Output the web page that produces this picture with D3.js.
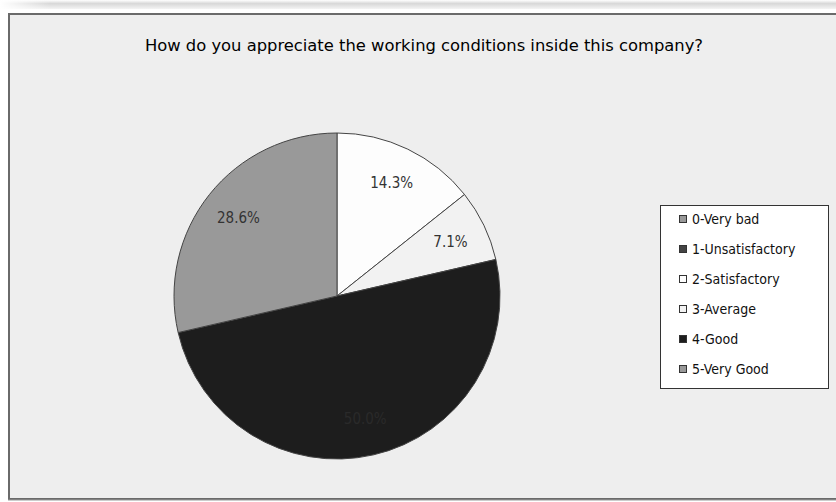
<!DOCTYPE html>
<html><head><meta charset="utf-8">
<script src="https://cdn.jsdelivr.net/npm/d3@7"></script>
<style>html,body{margin:0;padding:0;background:#fff;}svg{display:block;}</style>
</head><body>
<svg id="c" width="836" height="502"></svg>
<script>
const title = "How do you appreciate the working conditions inside this company?";
const categories = ["0-Very bad","1-Unsatisfactory","2-Satisfactory","3-Average","4-Good","5-Very Good"];
const values = [0, 0, 14.3, 7.1, 50.0, 28.6];
const colors = ["#999999","#444444","#fdfdfd","#f2f2f2","#1d1d1d","#999999"];
const labelColors = ["#333","#333","#333","#333","#2a2a2a","#333"];

const svg = d3.select("#c");
const W = 836, H = 502;

// top gradient band
const defs = svg.append("defs");
const g1 = defs.append("linearGradient").attr("id","topg").attr("x1",0).attr("x2",0).attr("y1",0).attr("y2",1);
g1.append("stop").attr("offset","0%").attr("stop-color","#ffffff");
g1.append("stop").attr("offset","40%").attr("stop-color","#d8d8d8");
g1.append("stop").attr("offset","100%").attr("stop-color","#f4f4f4");
const g2 = defs.append("linearGradient").attr("id","fadeL").attr("x1",0).attr("x2",1);
g2.append("stop").attr("offset","0%").attr("stop-color","#fff").attr("stop-opacity",1);
g2.append("stop").attr("offset","6%").attr("stop-color","#fff").attr("stop-opacity",0);
svg.append("rect").attr("x",0).attr("y",0).attr("width",W).attr("height",9).attr("fill","url(#topg)");
svg.append("rect").attr("x",0).attr("y",0).attr("width",W).attr("height",9).attr("fill","url(#fadeL)");

// chart frame
svg.append("rect").attr("x",9).attr("y",14).attr("width",W).attr("height",485)
  .attr("fill","#eeeeee").attr("stroke","#6a6a6a").attr("stroke-width",2);
svg.append("line").attr("x1",8).attr("x2",W).attr("y1",500).attr("y2",500).attr("stroke","#9a9a9a").attr("stroke-width",1);

svg.append("text").attr("x",424).attr("y",51).attr("text-anchor","middle")
  .attr("font-family","DejaVu Sans Condensed, DejaVu Sans, sans-serif").attr("font-size",16)
  .attr("fill","#000").attr("textLength",558).attr("lengthAdjust","spacingAndGlyphs")
  .text(title);

// pie
const cx = 337, cy = 296, R = 163;
const pie = d3.pie().sort(null).value(d => d.v).startAngle(0).endAngle(2*Math.PI);
const data = categories.map((c,i)=>({c, v: values[i], i}));
const arcs = pie(data).filter(d => d.data.v > 0);
const arc = d3.arc().innerRadius(0).outerRadius(R);
const labelArc = d3.arc().innerRadius(126).outerRadius(126);
const gp = svg.append("g").attr("transform",`translate(${cx},${cy})`);
gp.selectAll("path").data(arcs).enter().append("path")
  .attr("d", arc).attr("fill", d => colors[d.data.i])
  .attr("stroke","#444").attr("stroke-width",1);
gp.selectAll("text").data(arcs).enter().append("text")
  .attr("transform", d => `translate(${labelArc.centroid(d)})`)
  .attr("text-anchor","middle").attr("dy","0.36em")
  .attr("font-family","DejaVu Sans Condensed, DejaVu Sans, sans-serif").attr("font-size",15)
  .attr("fill", d => labelColors[d.data.i])
  .text(d => d3.format(".1f")(d.data.v) + "%");

// legend
const lg = svg.append("g");
lg.append("rect").attr("x",660.5).attr("y",205.5).attr("width",168).attr("height",183)
  .attr("fill","#ffffff").attr("stroke","#333").attr("stroke-width",1);
const items = lg.selectAll("g.it").data(categories).enter().append("g")
  .attr("transform",(d,i)=>`translate(679,${219 + i*30})`);
items.append("rect").attr("x",0.5).attr("y",-3.5).attr("width",7).attr("height",7)
  .attr("fill",(d,i)=>colors[i]).attr("stroke","#333").attr("stroke-width",1);
items.append("text").attr("x",13).attr("y",0).attr("dy","0.36em")
  .attr("font-family","DejaVu Sans Condensed, DejaVu Sans, sans-serif").attr("font-size",14)
  .attr("fill","#111").text(d=>d);
</script>
</body></html>
